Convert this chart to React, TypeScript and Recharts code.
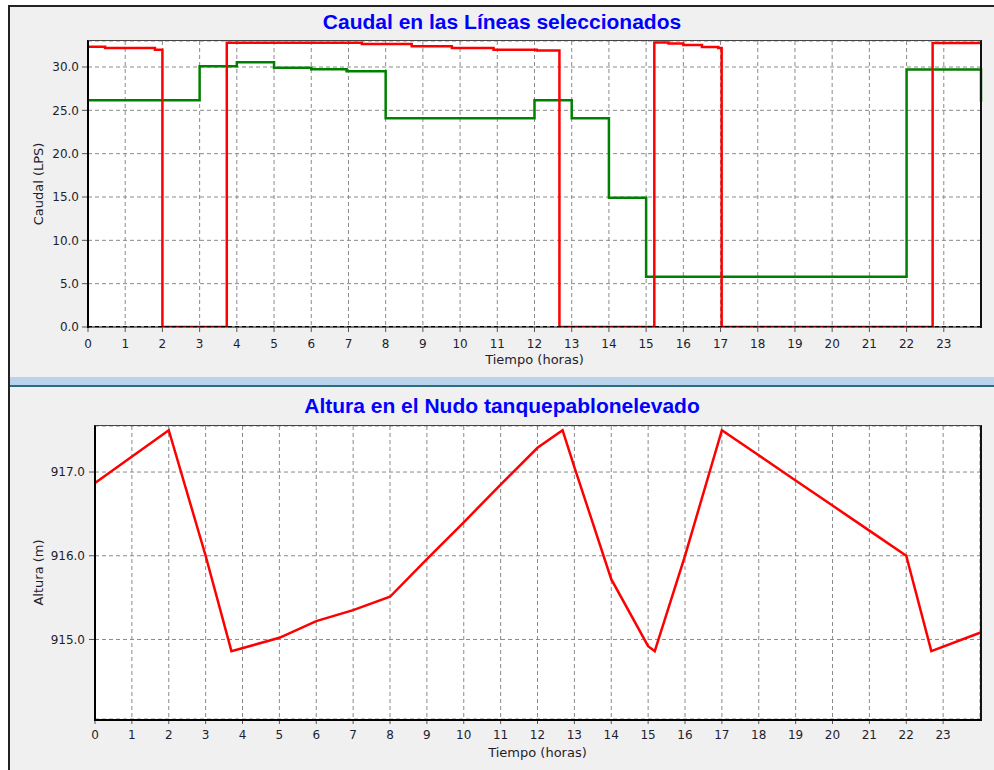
import { LineChart, Line, XAxis, YAxis, CartesianGrid } from "recharts";

// time axis (hours)
const hourTicks = [0, 1, 2, 3, 4, 5, 6, 7, 8, 9, 10, 11, 12, 13, 14, 15, 16, 17, 18, 19, 20, 21, 22, 23];

// Caudal (LPS) - line 1 (red)
const redTimes = [0, 0.46, 1.8, 2.0, 3.73, 7.36, 8.7, 9.78, 10.9, 12.06, 12.67, 15.22, 15.6, 16.0, 16.5, 16.94, 17.03, 22.7, 24];
const redFlows = [32.35, 32.2, 32.0, 0, 32.8, 32.66, 32.4, 32.2, 32.0, 31.9, 0, 32.84, 32.72, 32.54, 32.31, 32.2, 0, 32.76, 32.76];

// Caudal (LPS) - line 2 (green)
const greenTimes = [0, 3.0, 4.0, 5.0, 6.0, 6.95, 8.0, 12.0, 13.0, 14.0, 15.0, 22.0, 24];
const greenFlows = [26.15, 30.1, 30.55, 29.9, 29.75, 29.5, 24.1, 26.15, 24.1, 14.9, 5.8, 29.7, 26.0];

// Caudal (LPS) - line 3 (black, no flow)
const blackTimes = [0, 24];
const blackFlows = [0, 0];

const caudalTicks = [0, 5, 10, 15, 20, 25, 30];

// Altura (m) at nudo tanquepablonelevado
const headTimes = [0, 2, 3, 3.7, 5, 6, 7, 8, 9, 10, 11, 12, 12.68, 13, 14, 15, 15.18, 16, 17, 18, 19, 20, 21, 22, 22.68, 24];
const headValues = [916.87, 917.5, 916.0, 914.86, 915.02, 915.22, 915.35, 915.51, 915.96, 916.4, 916.85, 917.29, 917.5, 917.06, 915.72, 914.92, 914.86, 916.0, 917.5, 917.2, 916.9, 916.6, 916.3, 916.0, 914.86, 915.08];

const alturaTicks = [915, 916, 917];

const toRows = (times: number[], vals: number[]) => times.map((t, i) => ({ t, v: vals[i] }));

const tickStyle = { fill: "#1e1e2e", fontSize: 12 };
const axisTitle = { fill: "#1e1e2e", fontSize: 13 };
const gridColor = "#8a8a8a";

const titleStyle: React.CSSProperties = {
  position: "absolute",
  left: 10,
  width: 984,
  textAlign: "center",
  fontFamily: "'Liberation Sans', Arial, sans-serif",
  fontWeight: "bold",
  fontSize: 21,
  lineHeight: "21px",
  color: "#0000ff",
};

export default function App() {
  return (
    <div style={{ position: "absolute", left: 0, top: 0, width: 994, height: 770, background: "#fff", fontFamily: "'DejaVu Sans', sans-serif", overflow: "hidden" }}>
      {/* window frame and panels */}
      <div style={{ position: "absolute", left: 8, top: 5, width: 986, height: 2, background: "#222" }} />
      <div style={{ position: "absolute", left: 8, top: 5, width: 2, height: 765, background: "#222" }} />
      <div style={{ position: "absolute", left: 10, top: 7, width: 984, height: 370, background: "#f0f0f0" }} />
      <div style={{ position: "absolute", left: 10, top: 377, width: 984, height: 8, background: "#bad2ea" }} />
      <div style={{ position: "absolute", left: 10, top: 385, width: 984, height: 2, background: "#2c6c7c" }} />
      <div style={{ position: "absolute", left: 10, top: 387, width: 984, height: 383, background: "#f0f0f0" }} />

      {/* top chart */}
      <div style={{ ...titleStyle, top: 11 }}>Caudal en las Líneas seleccionados</div>
      <div style={{ position: "absolute", left: 0, top: 0 }}>
        <LineChart width={994} height={385} margin={{ top: 41, right: 13, left: 0, bottom: 18 }}>
          <CartesianGrid stroke={gridColor} strokeDasharray="4 3" fill="#fff" fillOpacity={1} />
          <XAxis
            dataKey="t"
            type="number"
            domain={[0, 24]}
            ticks={hourTicks}
            interval={0}
            height={40}
            tickSize={5}
            tickMargin={7}
            tick={tickStyle}
            tickLine={{ stroke: "#555" }}
            axisLine={{ stroke: "#000", strokeWidth: 1 }}
            label={{ value: "Tiempo (horas)", position: "insideBottom", offset: 3, ...axisTitle }}
          />
          <YAxis
            type="number"
            domain={[0, 33]}
            ticks={caudalTicks}
            interval={0}
            width={88}
            tickSize={6}
            tickMargin={3}
            tick={tickStyle}
            tickLine={{ stroke: "#555" }}
            axisLine={false}
            allowDataOverflow
            tickFormatter={(v: number) => v.toFixed(1)}
            label={{ value: "Caudal (LPS)", angle: -90, position: "insideLeft", offset: 38, ...axisTitle, style: { textAnchor: "middle" } }}
          />
          <Line data={toRows(greenTimes, greenFlows)} dataKey="v" type="stepAfter" stroke="#008000" strokeWidth={2.5} dot={false} activeDot={false} isAnimationActive={false} />
          <Line data={toRows(redTimes, redFlows)} dataKey="v" type="stepAfter" stroke="#ff0000" strokeWidth={2.5} dot={false} activeDot={false} isAnimationActive={false} />
          <Line data={toRows(blackTimes, blackFlows)} dataKey="v" type="linear" stroke="#000" strokeWidth={2} strokeDasharray="4 3" dot={false} activeDot={false} isAnimationActive={false} />
        </LineChart>
      </div>
      <div style={{ position: "absolute", left: 87, top: 40, width: 895, height: 288, boxSizing: "border-box", borderLeft: "2px solid #000", borderTop: "1px solid #444", borderRight: "2px solid #111", pointerEvents: "none" }} />

      {/* bottom chart */}
      <div style={{ ...titleStyle, top: 395 }}>Altura en el Nudo tanquepablonelevado</div>
      <div style={{ position: "absolute", left: 0, top: 387 }}>
        <LineChart width={994} height={383} margin={{ top: 39, right: 14, left: 0, bottom: 11 }}>
          <CartesianGrid stroke={gridColor} strokeDasharray="4 3" fill="#fff" fillOpacity={1} />
          <XAxis
            dataKey="t"
            type="number"
            domain={[0, 24]}
            ticks={hourTicks}
            interval={0}
            height={40}
            tickSize={5}
            tickMargin={6}
            tick={tickStyle}
            tickLine={{ stroke: "#555" }}
            axisLine={false}
            label={{ value: "Tiempo (horas)", position: "insideBottom", offset: 2, ...axisTitle }}
          />
          <YAxis
            type="number"
            domain={[914.05, 917.55]}
            ticks={alturaTicks}
            interval={0}
            width={95}
            tickSize={6}
            tickMargin={4}
            tick={tickStyle}
            tickLine={{ stroke: "#555" }}
            axisLine={false}
            allowDataOverflow
            tickFormatter={(v: number) => v.toFixed(1)}
            label={{ value: "Altura (m)", angle: -90, position: "insideLeft", offset: 38, ...axisTitle, style: { textAnchor: "middle" } }}
          />
          <Line data={toRows(headTimes, headValues)} dataKey="v" type="linear" stroke="#ff0000" strokeWidth={2.5} dot={false} activeDot={false} isAnimationActive={false} />
        </LineChart>
      </div>
      <div style={{ position: "absolute", left: 94, top: 425, width: 888, height: 296, boxSizing: "border-box", borderLeft: "2px solid #000", borderTop: "1px solid #444", borderRight: "2px solid #111", borderBottom: "2px solid #000", pointerEvents: "none" }} />
    </div>
  );
}
